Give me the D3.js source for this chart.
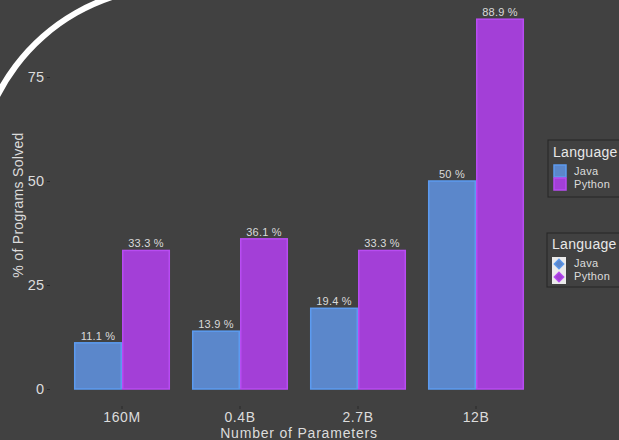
<!DOCTYPE html>
<html>
<head>
<meta charset="utf-8">
<script src="https://cdn.jsdelivr.net/npm/d3@7"></script>
<style>
  html, body { margin: 0; padding: 0; background: #414141; }
  svg { display: block; }
  text { font-family: "Liberation Sans", Arial, sans-serif; }
</style>
</head>
<body>
<svg id="chart" width="619" height="440"></svg>
<script>
const categories = ["160M", "0.4B", "2.7B", "12B"];
const languages = ["Java", "Python"];
const javaValues = [11.1, 13.9, 19.4, 50];
const pythonValues = [33.3, 36.1, 33.3, 88.9];
const yTicks = [0, 25, 50, 75];

const colors = { Java: "#5b87cb", Python: "#a33fd7" };
const borders = { Java: "#5c9bf0", Python: "#b84cf2" };

const svg = d3.select("#chart");
svg.append("rect").attr("width", 619).attr("height", 440).attr("fill", "#414141");

const x = d3.scaleBand().domain(categories).range([63, 535]).paddingInner(0.186).paddingOuter(0.093);
const xi = d3.scaleBand().domain(languages).range([0, x.bandwidth()]);
const y = d3.scaleLinear().domain([0, 75]).range([389, 77]);

const rows = categories.map((c, i) => ({ cat: c, Java: javaValues[i], Python: pythonValues[i] }));

const g = svg.append("g");
const groups = g.selectAll("g.grp").data(rows).join("g")
  .attr("transform", d => `translate(${x(d.cat)},0)`);

groups.selectAll("rect").data(d => languages.map(l => ({ lang: l, v: d[l] }))).join("rect")
  .attr("x", d => xi(d.lang) + 0.75)
  .attr("width", xi.bandwidth() - 1.5)
  .attr("y", d => y(d.v))
  .attr("height", d => y(0) - y(d.v))
  .attr("fill", d => colors[d.lang])
  .attr("stroke", d => borders[d.lang])
  .attr("stroke-width", 1.5);

groups.selectAll("text").data(d => languages.map(l => ({ lang: l, v: d[l] }))).join("text")
  .attr("x", d => xi(d.lang) + xi.bandwidth() / 2)
  .attr("y", d => y(d.v) - 3)
  .attr("text-anchor", "middle")
  .attr("font-size", 11)
  .attr("letter-spacing", 0.2)
  .attr("fill", "#dadada")
  .text(d => d.v + " %");

// Y axis
const yAxis = d3.axisLeft(y).tickValues(yTicks).tickSize(3).tickPadding(3);
const yg = svg.append("g").attr("transform", "translate(50,0)").call(yAxis);
yg.select(".domain").remove();
yg.selectAll(".tick line").attr("stroke", "#2a2a2a");
yg.selectAll(".tick text").attr("fill", "#dcdcdc").attr("font-size", 14.5)
  .attr("font-family", "Liberation Sans, Arial, sans-serif");

// X axis
const xAxis = d3.axisBottom(x).tickSize(3).tickPadding(3);
const xg = svg.append("g").attr("transform", "translate(0,406)").call(xAxis);
xg.select(".domain").remove();
xg.selectAll(".tick line").attr("stroke", "#2a2a2a");
xg.selectAll(".tick text").attr("fill", "#dcdcdc").attr("font-size", 14)
  .attr("letter-spacing", 0.6)
  .attr("font-family", "Liberation Sans, Arial, sans-serif");

// Axis titles
svg.append("text").attr("x", 299).attr("y", 438).attr("text-anchor", "middle")
  .attr("fill", "#dcdcdc").attr("font-size", 14).attr("letter-spacing", 0.8).text("Number of Parameters");
svg.append("text").attr("transform", "translate(23,205) rotate(-90)").attr("text-anchor", "middle")
  .attr("fill", "#dcdcdc").attr("font-size", 14).attr("letter-spacing", 0.3).text("% of Programs Solved");

// Decorative white arc
const arc = d3.arc().innerRadius(195).outerRadius(201).startAngle(-Math.PI * 0.62).endAngle(-Math.PI * 0.1);
svg.append("path").attr("d", arc()).attr("transform", "translate(174,185)").attr("fill", "#ffffff");

// Legend 1 (fill squares)
const leg1 = svg.append("g").attr("transform", "translate(548,140)");
leg1.append("rect").attr("width", 80).attr("height", 57).attr("fill", "#414141")
  .attr("stroke", "#262626").attr("stroke-width", 1);
leg1.append("text").attr("x", 5).attr("y", 17).attr("fill", "#e8e8e8").attr("font-size", 14).attr("letter-spacing", 0.3).text("Language");
leg1.selectAll("rect.key").data(languages).join("rect").attr("class", "key")
  .attr("x", 6).attr("y", (d, i) => 25 + i * 13).attr("width", 12).attr("height", 12)
  .attr("fill", d => colors[d]).attr("stroke", d => borders[d]).attr("stroke-width", 1.5);
leg1.selectAll("text.lab").data(languages).join("text").attr("class", "lab")
  .attr("x", 26).attr("y", (d, i) => 35 + i * 13).attr("fill", "#dcdcdc").attr("font-size", 11).attr("letter-spacing", 0.3).text(d => d);

// Legend 2 (diamonds)
const leg2 = svg.append("g").attr("transform", "translate(547,233)");
leg2.append("rect").attr("width", 80).attr("height", 54).attr("fill", "#414141")
  .attr("stroke", "#262626").attr("stroke-width", 1);
leg2.append("text").attr("x", 5).attr("y", 16).attr("fill", "#e8e8e8").attr("font-size", 14).attr("letter-spacing", 0.3).text("Language");
leg2.append("rect").attr("x", 5).attr("y", 24).attr("width", 14).attr("height", 27).attr("fill", "#ebebeb");
const sym = d3.symbol().type(d3.symbolDiamond2).size(60);
leg2.selectAll("path.key").data(languages).join("path").attr("class", "key")
  .attr("d", sym)
  .attr("transform", (d, i) => `translate(12,${31 + i * 13})`)
  .attr("fill", d => colors[d]).attr("stroke", d => borders[d]).attr("stroke-width", 1.2);
leg2.selectAll("text.lab").data(languages).join("text").attr("class", "lab")
  .attr("x", 27).attr("y", (d, i) => 34 + i * 13).attr("fill", "#dcdcdc").attr("font-size", 11).attr("letter-spacing", 0.3).text(d => d);
</script>
</body>
</html>
